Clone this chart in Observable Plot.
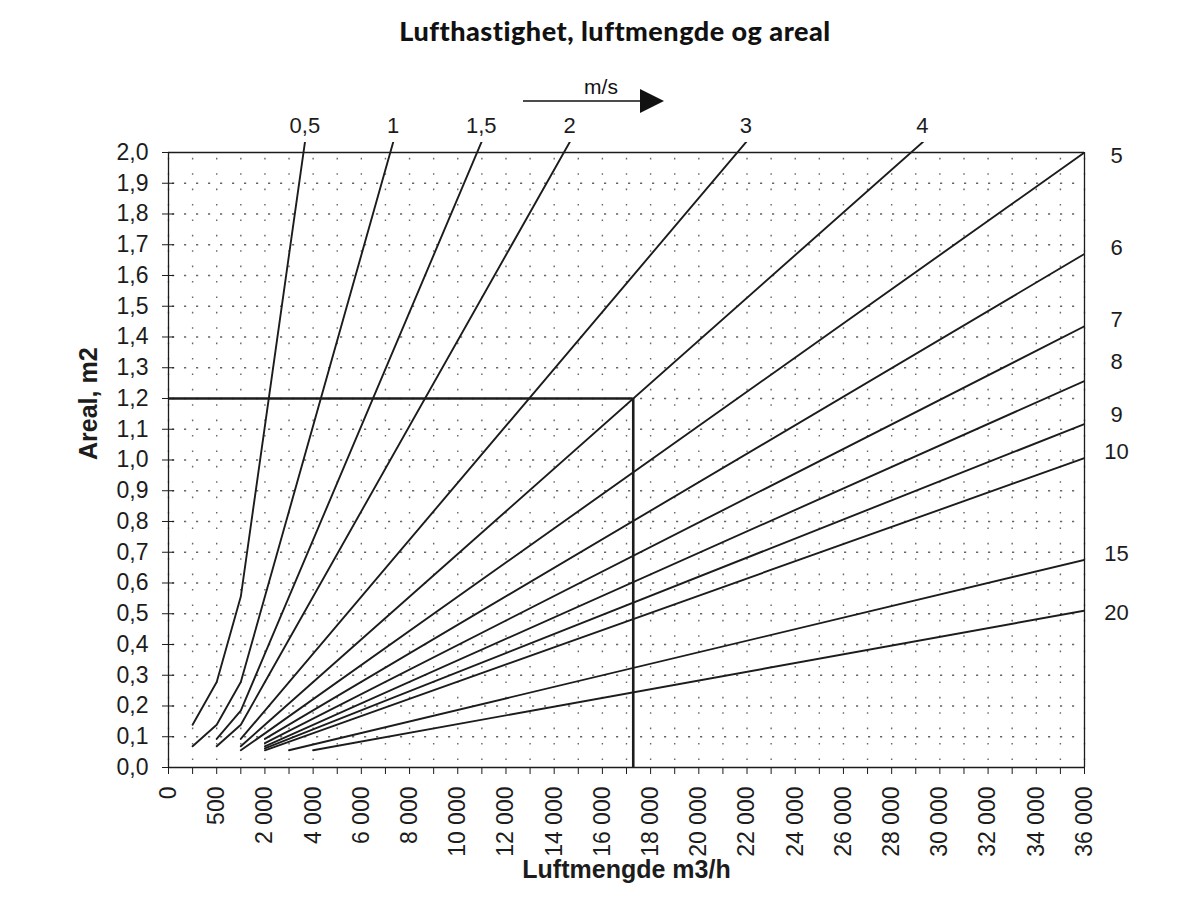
<!DOCTYPE html>
<html><head><meta charset="utf-8">
<script src="https://cdn.jsdelivr.net/npm/d3@7"></script>
<script src="https://cdn.jsdelivr.net/npm/@observablehq/plot@0.6"></script>
<style>
body{margin:0;background:#fff;}
#wrap{position:relative;width:1177px;height:897px;overflow:hidden;}
#title{height:62px;position:relative;}
#title span{position:absolute;left:615px;top:14px;transform:translateX(-50%);white-space:nowrap;font-family:Lato,"Open Sans",sans-serif;font-weight:900;font-size:27px;letter-spacing:0.5px;color:#111;}
#unit{position:absolute;left:515px;top:74px;}
</style></head>
<body><div id="wrap">
<div id="title"><span>Lufthastighet, luftmengde og areal</span></div>
<div id="chart"></div>
<svg id="unit" width="160" height="45">
  <text x="86" y="20" text-anchor="middle" font-family="Liberation Sans, Arial, sans-serif" font-size="21" fill="#111">m/s</text>
  <line x1="8" y1="27" x2="127" y2="27" stroke="#111" stroke-width="1.6"/>
  <polygon points="125,15 149,27 125,39" fill="#111"/>
</svg>
</div>
<script>
// x categories (Luftmengde m3/h)
const flowCats = [0, 250, 500, 1000, 2000, 3000, 4000, 5000, 6000, 7000, 8000, 9000, 10000, 11000, 12000, 13000, 14000, 15000, 16000, 17000, 18000, 19000, 20000, 21000, 22000, 23000, 24000, 25000, 26000, 27000, 28000, 29000, 30000, 31000, 32000, 33000, 34000, 35000, 36000];
// y tick values (Areal, m2)
const yTicks = [0, 0.1, 0.2, 0.3, 0.4, 0.5, 0.6, 0.7, 0.8, 0.9, 1.0, 1.1, 1.2, 1.3, 1.4, 1.5, 1.6, 1.7, 1.8, 1.9, 2.0];
// speed labels (m/s)
const speedLabels = ["0,5", "1", "1,5", "2", "3", "4", "5", "6", "7", "8", "9", "10", "15", "20"];
// series: [flow m3/h, area m2]
const s0_5 = [[250, 0.139], [500, 0.278], [1000, 0.556], [2000, 1.111], [3000, 1.667], [4000, 2.222]];
const s1   = [[250, 0.069], [500, 0.139], [1000, 0.278], [2000, 0.556], [8000, 2.222]];
const s1_5 = [[500, 0.093], [1000, 0.185], [2000, 0.370], [12000, 2.222]];
const s2   = [[500, 0.069], [1000, 0.139], [2000, 0.278], [15000, 2.083]];
const s3   = [[1000, 0.093], [2000, 0.185], [23000, 2.130]];
const s4   = [[1000, 0.069], [2000, 0.139], [30000, 2.083]];
const s5   = [[1000, 0.056], [2000, 0.111], [36000, 2.0]];
const s6   = [[2000, 0.093], [36000, 1.67]];
const s7   = [[2000, 0.079], [36000, 1.435]];
const s8   = [[2000, 0.069], [36000, 1.257]];
const s9   = [[2000, 0.062], [36000, 1.117]];
const s10  = [[2000, 0.056], [36000, 1.006]];
const s15  = [[3000, 0.056], [36000, 0.675]];
const s20  = [[4000, 0.056], [36000, 0.51]];
const seriesList = [s0_5, s1, s1_5, s2, s3, s4, s5, s6, s7, s8, s9, s10, s15, s20];
// example reading marked on the chart
const markerFlow = 17280;
const markerArea = 1.2;

// position of a flow on the category axis
function flowPos(f) {
  for (let i = 0; i < flowCats.length - 1; i++) {
    if (f >= flowCats[i] && f <= flowCats[i + 1]) return i + (f - flowCats[i]) / (flowCats[i + 1] - flowCats[i]);
  }
  return flowCats.length - 1;
}

const yTop = 2.0325;
const xMax = flowCats.length - 1;

const rows = [];
seriesList.forEach((s, k) => s.forEach(([f, a]) => rows.push({x: flowCats.indexOf(f), y: a, s: speedLabels[k]})));

const topLabels = [], rightLabels = [];
const nudge = {"5": 3, "8": -19, "9": -9, "20": 2};
seriesList.forEach((s, k) => {
  const pts = s.map(([f, a]) => [flowCats.indexOf(f), a]);
  const last = pts[pts.length - 1];
  if (last[1] > 2.0) {
    for (let i = 0; i < pts.length - 1; i++) {
      const [x0, y0] = pts[i], [x1, y1] = pts[i + 1];
      if (y0 <= yTop && y1 > yTop) {
        topLabels.push({x: x0 + (yTop - y0) / (y1 - y0) * (x1 - x0), y: yTop, t: speedLabels[k]});
        break;
      }
    }
  } else {
    rightLabels.push({x: last[0], y: last[1], t: speedLabels[k], dy: nudge[speedLabels[k]] ?? -6});
  }
});

const loc = d3.formatLocale({decimal: ",", thousands: " ", grouping: [3], currency: ["", ""]});
const fmtX = loc.format(",d");
const fmtY = loc.format(".1f");
const font = "Liberation Sans, Arial, sans-serif";
const ink = "#1c1c1c";

const chart = Plot.plot({
  width: 1177,
  height: 835,
  marginTop: 80,
  marginBottom: 130,
  marginLeft: 168,
  marginRight: 93,
  style: {fontFamily: font, color: ink, background: "#fff"},
  x: {domain: [0, xMax], label: null},
  y: {domain: [0, yTop], label: null},
  marks: [
    Plot.ruleX(d3.range(flowCats.length), {y1: 0, y2: 2, stroke: "#666", strokeWidth: 1.4, strokeDasharray: "1.6,13.8", strokeDashoffset: -7}),
    Plot.ruleY(yTicks.slice(1, -1), {stroke: "#666", strokeWidth: 1.4, strokeDasharray: "2.2,9.8", strokeDashoffset: -4}),
    Plot.ruleX([0, xMax], {y1: 0, y2: 2, stroke: ink, strokeWidth: 1.3}),
    Plot.ruleY([0, 2], {stroke: ink, strokeWidth: 1.3}),
    Plot.axisY({ticks: yTicks, tickSize: 12, dx: 6, tickFormat: () => "", label: null, stroke: ink}),
    Plot.axisY({ticks: yTicks, tickSize: 0, tickPadding: 20, tickFormat: fmtY, fontSize: 23, label: null, fill: ink, stroke: ink, strokeWidth: 0.35}),
    Plot.axisX({ticks: d3.range(flowCats.length), tickSize: 7, tickPadding: 12, tickRotate: -90, fontSize: 23,
      tickFormat: i => i % 2 ? "" : fmtX(flowCats[i]), label: null, stroke: ink, fill: ink}),
    Plot.line(rows, {x: "x", y: "y", z: "s", stroke: ink, strokeWidth: 1.9, clip: true}),
    Plot.ruleY([markerArea], {x1: 0, x2: flowPos(markerFlow), stroke: ink, strokeWidth: 2.6}),
    Plot.ruleX([flowPos(markerFlow)], {y1: 0, y2: markerArea, stroke: ink, strokeWidth: 2.6}),
    Plot.text(topLabels, {x: "x", y: "y", text: "t", dy: -17, fontSize: 22, fill: ink}),
    ...rightLabels.map(d => Plot.text([d], {x: "x", y: "y", text: "t", dx: 32, dy: d.dy, fontSize: 22, fill: ink})),
    Plot.text(["Areal, m2"], {frameAnchor: "left", dx: -80, dy: 5, rotate: -90, fontSize: 25, fontWeight: "bold", fill: ink}),
    Plot.text(["Luftmengde m3/h"], {frameAnchor: "bottom", dy: 110, fontSize: 25, fontWeight: "bold", fill: ink})
  ]
});
document.getElementById("chart").appendChild(chart);
</script>
</body></html>
